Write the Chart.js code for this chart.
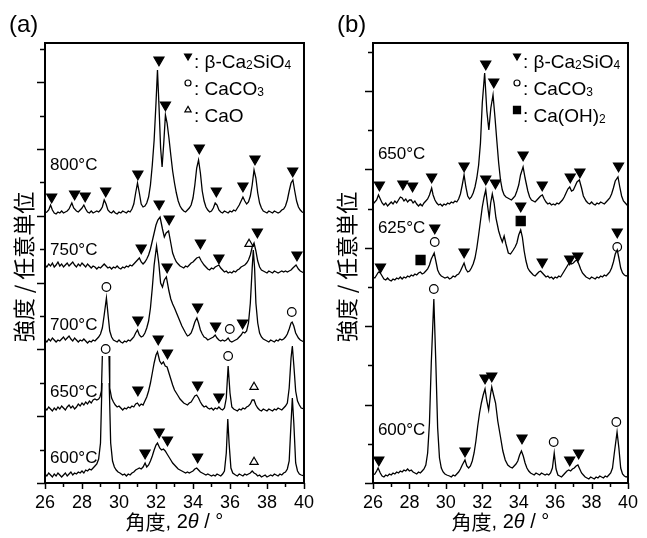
<!DOCTYPE html>
<html>
<head>
<meta charset="utf-8">
<script src="https://cdn.jsdelivr.net/npm/chart.js@4.4.1/dist/chart.umd.min.js"></script>
<style>
  body { margin: 0; background: #fff; }
  #wrap { position: relative; width: 647px; height: 538px; }
  canvas { position: absolute; top: 0; }
</style>
</head>
<body>
<div id="wrap">
  <canvas id="ca" width="323" height="538" style="left:0;width:323px;height:538px"></canvas>
  <canvas id="cb" width="324" height="538" style="left:323px;width:324px;height:538px"></canvas>
</div>
<script>
// x = 2theta (deg), y = intensity (arb. units, curves already offset)
const xTicks = [26, 28, 30, 32, 34, 36, 38, 40];
const xMinor = [26, 27, 28, 29, 30, 31, 32, 33, 34, 35, 36, 37, 38, 39, 40];

// panel (a)
const a800 = [[26.0,270],[26.1,271],[26.2,273],[26.3,278],[26.4,273],[26.5,270],[26.6,269],[26.7,271],[26.8,270],[26.9,272],[27.0,270],[27.1,271],[27.2,272],[27.3,274],[27.45,280],[27.55,275],[27.7,272],[27.8,271],[27.9,273],[28.0,275],[28.1,278],[28.2,274],[28.3,271],[28.4,270],[28.5,272],[28.6,270],[28.7,271],[28.8,272],[28.9,271],[29.0,273],[29.1,276],[29.2,283],[29.3,279],[29.4,273],[29.5,271],[29.6,270],[29.7,272],[29.8,270],[29.9,269],[30.0,271],[30.1,270],[30.2,272],[30.3,271],[30.4,270],[30.5,272],[30.6,271],[30.7,274],[30.8,279],[30.9,290],[31.0,300],[31.1,290],[31.2,279],[31.3,276],[31.4,277],[31.5,280],[31.6,286],[31.7,298],[31.8,318],[31.9,343],[32.0,380],[32.08,413],[32.16,378],[32.25,335],[32.33,316],[32.42,340],[32.51,368],[32.6,360],[32.7,345],[32.8,328],[32.9,312],[33.0,300],[33.1,290],[33.2,282],[33.3,277],[33.4,274],[33.5,272],[33.6,271],[33.7,273],[33.8,275],[33.9,278],[34.0,285],[34.1,298],[34.2,315],[34.3,323],[34.4,310],[34.5,292],[34.6,282],[34.7,276],[34.8,273],[34.9,271],[35.0,272],[35.1,275],[35.2,280],[35.3,278],[35.4,273],[35.5,271],[35.6,270],[35.7,272],[35.8,271],[35.9,270],[36.0,272],[36.1,271],[36.2,273],[36.3,272],[36.4,275],[36.5,278],[36.6,282],[36.7,286],[36.8,282],[36.9,279],[37.0,281],[37.1,287],[37.2,298],[37.3,313],[37.4,305],[37.5,290],[37.6,280],[37.7,275],[37.8,272],[37.9,271],[38.0,270],[38.1,272],[38.2,271],[38.3,270],[38.4,272],[38.5,271],[38.6,270],[38.7,271],[38.8,273],[38.9,274],[39.0,277],[39.1,283],[39.2,292],[39.3,300],[39.4,303],[39.5,292],[39.6,282],[39.7,276],[39.8,273],[39.9,271],[40.0,270]];
const a750 = [[26.0,218],[26.1,216],[26.2,219],[26.3,217],[26.4,220],[26.5,216],[26.6,218],[26.7,221],[26.8,217],[26.9,219],[27.0,216],[27.1,218],[27.2,220],[27.3,217],[27.4,219],[27.5,221],[27.6,218],[27.7,216],[27.8,219],[27.9,217],[28.0,220],[28.1,218],[28.2,216],[28.3,219],[28.4,217],[28.5,215],[28.6,217],[28.7,216],[28.8,214],[28.9,216],[29.0,215],[29.1,217],[29.2,219],[29.3,217],[29.4,215],[29.5,216],[29.6,214],[29.7,216],[29.8,215],[29.9,217],[30.0,215],[30.1,214],[30.2,216],[30.3,215],[30.4,217],[30.5,216],[30.6,218],[30.7,217],[30.8,219],[30.9,221],[31.0,223],[31.1,225],[31.2,221],[31.3,219],[31.4,221],[31.5,224],[31.6,228],[31.7,234],[31.8,242],[31.9,250],[32.0,258],[32.1,263],[32.22,266],[32.35,254],[32.45,246],[32.55,250],[32.68,252],[32.8,240],[32.9,230],[33.0,225],[33.1,221],[33.2,219],[33.3,217],[33.4,216],[33.5,215],[33.6,217],[33.7,216],[33.8,218],[33.9,220],[34.0,221],[34.1,223],[34.2,225],[34.34,226],[34.45,222],[34.6,218],[34.7,216],[34.8,214],[34.9,213],[35.0,215],[35.1,214],[35.2,216],[35.3,217],[35.4,218],[35.5,215],[35.6,213],[35.7,211],[35.8,212],[35.9,210],[36.0,211],[36.1,210],[36.2,212],[36.3,211],[36.4,213],[36.5,214],[36.6,216],[36.7,217],[36.8,218],[36.9,220],[37.0,223],[37.1,228],[37.2,236],[37.3,240],[37.4,232],[37.5,222],[37.6,216],[37.7,213],[37.8,212],[37.9,211],[38.0,210],[38.1,212],[38.2,211],[38.3,210],[38.4,212],[38.5,211],[38.6,210],[38.7,211],[38.8,212],[38.9,211],[39.0,212],[39.1,211],[39.2,212],[39.3,213],[39.4,215],[39.57,218],[39.7,214],[39.8,212],[39.9,211],[40.0,210]];
const a700 = [[26.0,143],[26.1,141],[26.2,144],[26.3,142],[26.4,145],[26.5,143],[26.6,141],[26.7,143],[26.8,142],[26.9,144],[27.0,146],[27.1,143],[27.2,145],[27.3,147],[27.4,144],[27.5,142],[27.6,145],[27.7,143],[27.8,141],[27.9,143],[28.0,142],[28.1,144],[28.2,142],[28.3,140],[28.4,142],[28.5,141],[28.6,143],[28.7,142],[28.8,144],[28.9,146],[29.0,149],[29.1,155],[29.2,168],[29.32,185],[29.42,166],[29.5,152],[29.6,146],[29.7,143],[29.8,142],[29.9,141],[30.0,143],[30.1,141],[30.2,140],[30.3,142],[30.4,141],[30.5,143],[30.6,142],[30.7,144],[30.8,146],[30.9,150],[31.0,153],[31.1,148],[31.2,146],[31.3,147],[31.4,150],[31.5,155],[31.6,162],[31.7,175],[31.8,195],[31.9,218],[32.03,237],[32.15,220],[32.25,200],[32.35,196],[32.45,203],[32.56,206],[32.7,192],[32.8,184],[32.9,179],[33.0,175],[33.2,166],[33.4,157],[33.6,150],[33.7,147],[33.8,148],[33.9,150],[34.0,155],[34.1,161],[34.21,165],[34.3,160],[34.4,153],[34.5,149],[34.6,146],[34.7,145],[34.8,143],[34.9,144],[35.0,145],[35.1,146],[35.2,148],[35.3,145],[35.4,143],[35.5,142],[35.6,143],[35.7,142],[35.8,143],[35.9,145],[36.0,142],[36.1,141],[36.2,142],[36.3,143],[36.4,144],[36.5,146],[36.6,148],[36.7,151],[36.8,150],[36.9,152],[37.0,160],[37.1,180],[37.2,215],[37.26,233],[37.33,215],[37.4,180],[37.5,160],[37.6,150],[37.7,146],[37.8,144],[37.9,143],[38.0,142],[38.1,141],[38.2,143],[38.3,142],[38.4,141],[38.5,143],[38.6,142],[38.7,144],[38.8,143],[38.9,144],[39.0,146],[39.1,149],[39.2,154],[39.3,160],[39.36,161],[39.45,157],[39.55,150],[39.7,145],[39.8,143],[39.9,142],[40.0,141]];
const a650 = [[26.0,75],[26.1,73],[26.2,76],[26.3,74],[26.4,72],[26.5,75],[26.6,73],[26.7,76],[26.8,74],[26.9,77],[27.0,75],[27.1,73],[27.2,76],[27.3,78],[27.4,75],[27.5,77],[27.6,74],[27.7,76],[27.8,79],[27.9,77],[28.0,80],[28.1,78],[28.2,81],[28.3,79],[28.4,82],[28.5,80],[28.6,83],[28.7,84],[28.8,83],[28.9,84],[28.97,86],[29.05,92],[29.1,127],[29.28,null],[29.46,127],[29.5,95],[29.6,85],[29.7,81],[29.8,78],[29.9,76],[30.0,77],[30.1,75],[30.2,73],[30.3,75],[30.4,74],[30.5,76],[30.6,75],[30.7,77],[30.8,76],[30.9,79],[31.0,80],[31.1,77],[31.2,79],[31.3,78],[31.4,82],[31.5,86],[31.6,92],[31.7,100],[31.8,110],[31.9,120],[32.0,128],[32.08,131],[32.2,122],[32.3,119],[32.4,121],[32.5,117],[32.6,116],[32.7,110],[32.8,104],[32.9,98],[33.0,93],[33.1,90],[33.2,87],[33.3,84],[33.4,82],[33.5,80],[33.6,79],[33.7,78],[33.8,80],[33.9,81],[34.0,84],[34.1,87],[34.2,88],[34.3,85],[34.4,81],[34.5,78],[34.6,76],[34.7,77],[34.8,75],[34.9,74],[35.0,75],[35.1,73],[35.2,75],[35.3,74],[35.4,76],[35.5,74],[35.6,73],[35.7,75],[35.8,85],[35.9,117],[36.0,90],[36.1,76],[36.2,74],[36.3,73],[36.4,72],[36.5,74],[36.6,73],[36.7,75],[36.8,74],[36.9,76],[37.0,77],[37.1,79],[37.2,83],[37.3,83],[37.4,78],[37.5,75],[37.6,73],[37.7,72],[37.8,74],[37.9,73],[38.0,72],[38.1,74],[38.2,73],[38.3,72],[38.4,74],[38.5,73],[38.6,75],[38.7,74],[38.8,73],[38.9,75],[39.0,77],[39.1,80],[39.2,95],[39.3,125],[39.37,137],[39.45,118],[39.55,92],[39.65,82],[39.75,78],[39.85,75],[40.0,74]];
const a600 = [[26.0,9],[26.1,7],[26.2,10],[26.3,8],[26.4,6],[26.5,9],[26.6,7],[26.7,10],[26.8,8],[26.9,6],[27.0,8],[27.1,10],[27.2,7],[27.3,9],[27.4,11],[27.5,8],[27.6,10],[27.7,9],[27.8,11],[27.9,10],[28.0,12],[28.1,10],[28.2,13],[28.3,12],[28.4,14],[28.5,13],[28.6,15],[28.7,17],[28.8,19],[28.9,24],[29.0,40],[29.08,100],[29.28,null],[29.47,100],[29.55,40],[29.65,22],[29.75,16],[29.85,13],[29.95,11],[30.05,10],[30.2,8],[30.3,9],[30.4,7],[30.5,9],[30.6,8],[30.7,10],[30.8,11],[30.9,13],[31.0,14],[31.1,15],[31.2,14],[31.3,16],[31.41,20],[31.5,16],[31.6,18],[31.7,22],[31.8,27],[31.9,33],[32.0,38],[32.08,40],[32.2,35],[32.3,33],[32.4,34],[32.5,32],[32.6,29],[32.7,26],[32.8,23],[32.9,20],[33.0,18],[33.1,16],[33.2,14],[33.3,13],[33.4,12],[33.5,11],[33.6,10],[33.7,11],[33.8,10],[33.9,11],[34.0,12],[34.1,14],[34.2,15],[34.3,13],[34.4,11],[34.5,10],[34.6,9],[34.7,8],[34.8,9],[34.9,8],[35.0,7],[35.1,8],[35.2,7],[35.3,9],[35.4,8],[35.5,7],[35.6,9],[35.7,12],[35.8,30],[35.88,64],[35.95,40],[36.05,15],[36.15,10],[36.3,8],[36.4,7],[36.5,9],[36.6,8],[36.7,7],[36.8,9],[36.9,8],[37.0,9],[37.1,10],[37.2,12],[37.3,10],[37.4,9],[37.5,7],[37.6,8],[37.7,6],[37.8,7],[37.9,8],[38.0,6],[38.1,7],[38.2,8],[38.3,7],[38.4,9],[38.5,8],[38.6,7],[38.7,9],[38.8,8],[38.9,10],[39.0,11],[39.1,14],[39.2,22],[39.3,60],[39.37,85],[39.45,60],[39.55,20],[39.65,12],[39.75,9],[39.85,8],[40.0,7]];

const aBeta = [[26.36,286],[27.6,289],[28.17,287],[29.28,292],[31.02,309],[32.16,423],[32.51,378],[34.34,335],[35.26,292],[36.7,297],[37.35,324],[39.39,312],
  [31.2,235],[32.17,279],[32.71,264],[34.4,240],[35.4,225],[37.48,251],[39.62,228],
  [31.02,163],[32.6,216],[34.25,176],[35.22,157],[36.68,160],
  [31.02,93],[32.12,144],[32.62,130],[34.25,98],[35.4,86],
  [31.41,30],[32.17,51],[32.62,43],[34.25,26]];
const aCaCO3 = [[29.32,196],[35.99,154],[39.34,171],[29.28,134],[35.9,127]];
const aCaO = [[37.03,239],[37.3,96],[37.3,21]];
const aTemps = [['800°C', 26.27, 318], ['750°C', 26.27, 233], ['700°C', 26.27, 158], ['650°C', 26.27, 91], ['600°C', 26.27, 25]];

// panel (b)
const b650 = [[26.0,279],[26.1,281],[26.2,283],[26.3,288],[26.4,284],[26.5,280],[26.6,278],[26.7,280],[26.8,277],[26.9,279],[27.0,281],[27.1,279],[27.2,282],[27.3,280],[27.4,283],[27.5,286],[27.6,285],[27.7,282],[27.8,284],[27.9,281],[28.0,283],[28.1,283],[28.2,280],[28.3,282],[28.4,279],[28.5,277],[28.6,279],[28.7,277],[28.8,280],[28.9,282],[29.0,284],[29.1,288],[29.22,295],[29.3,288],[29.4,283],[29.5,280],[29.6,278],[29.7,279],[29.8,277],[29.9,279],[30.0,278],[30.1,280],[30.2,279],[30.3,281],[30.4,280],[30.5,282],[30.6,281],[30.7,284],[30.8,289],[30.9,298],[31.0,308],[31.1,296],[31.2,287],[31.3,284],[31.4,286],[31.5,290],[31.6,296],[31.7,305],[31.8,318],[31.9,340],[32.0,380],[32.13,410],[32.25,372],[32.36,353],[32.47,375],[32.59,388],[32.7,365],[32.8,342],[32.9,320],[33.0,303],[33.1,293],[33.2,288],[33.3,286],[33.4,285],[33.5,284],[33.6,283],[33.7,285],[33.8,287],[33.9,292],[34.0,298],[34.1,308],[34.24,316],[34.35,305],[34.5,292],[34.6,286],[34.7,283],[34.8,282],[34.9,281],[35.0,283],[35.1,285],[35.2,287],[35.3,288],[35.4,284],[35.5,281],[35.6,279],[35.7,280],[35.8,278],[35.9,279],[36.0,278],[36.1,280],[36.2,279],[36.3,281],[36.4,283],[36.5,286],[36.6,290],[36.7,294],[36.8,296],[36.9,292],[37.0,293],[37.1,297],[37.2,301],[37.33,303],[37.45,295],[37.55,287],[37.7,282],[37.8,280],[37.9,279],[38.0,281],[38.1,279],[38.2,278],[38.3,280],[38.4,279],[38.5,281],[38.6,280],[38.7,279],[38.8,281],[38.9,283],[39.0,285],[39.1,289],[39.2,295],[39.3,302],[39.45,306],[39.55,296],[39.65,287],[39.75,282],[39.85,280],[39.95,278],[40.0,279]];
const b625 = [[26.0,206],[26.1,205],[26.2,208],[26.3,211],[26.4,210],[26.5,207],[26.6,204],[26.7,203],[26.8,205],[26.9,203],[27.0,202],[27.1,204],[27.2,203],[27.3,205],[27.4,204],[27.5,206],[27.6,204],[27.7,206],[27.8,205],[27.9,207],[28.0,206],[28.1,208],[28.2,207],[28.3,209],[28.4,208],[28.5,210],[28.6,211],[28.7,209],[28.8,210],[28.9,212],[29.0,214],[29.1,218],[29.2,224],[29.36,230],[29.45,222],[29.55,213],[29.65,209],[29.75,207],[29.85,206],[29.95,205],[30.1,206],[30.2,204],[30.3,205],[30.4,207],[30.5,206],[30.6,208],[30.7,209],[30.8,212],[30.9,216],[31.0,220],[31.1,214],[31.2,211],[31.3,212],[31.4,215],[31.5,219],[31.6,225],[31.7,235],[31.8,248],[31.9,262],[32.0,276],[32.1,286],[32.19,293],[32.3,276],[32.38,265],[32.46,280],[32.55,289],[32.65,280],[32.75,265],[32.9,252],[33.0,246],[33.1,241],[33.2,247],[33.3,239],[33.43,230],[33.55,229],[33.7,233],[33.8,236],[33.9,240],[34.0,248],[34.11,253],[34.2,246],[34.3,232],[34.4,222],[34.5,215],[34.6,212],[34.7,210],[34.8,208],[34.9,207],[35.0,209],[35.1,211],[35.2,212],[35.3,210],[35.4,208],[35.5,206],[35.6,207],[35.7,205],[35.8,206],[35.9,204],[36.0,206],[36.1,205],[36.2,207],[36.3,206],[36.4,209],[36.5,212],[36.6,215],[36.7,218],[36.8,221],[36.9,219],[37.0,220],[37.1,222],[37.2,223],[37.3,219],[37.4,214],[37.5,210],[37.6,208],[37.7,206],[37.8,205],[37.9,204],[38.0,206],[38.1,205],[38.2,204],[38.3,206],[38.4,205],[38.5,207],[38.6,206],[38.7,208],[38.8,207],[38.9,209],[39.0,211],[39.1,215],[39.2,221],[39.3,229],[39.41,233],[39.5,225],[39.6,215],[39.7,210],[39.8,208],[39.9,207],[40.0,208]];
const b600 = [[26.0,8],[26.1,9],[26.2,12],[26.28,15],[26.4,10],[26.5,7],[26.6,6],[26.7,8],[26.8,7],[26.9,9],[27.0,8],[27.1,10],[27.2,9],[27.3,11],[27.4,10],[27.5,12],[27.6,11],[27.7,13],[27.8,12],[27.9,14],[28.0,12],[28.1,13],[28.2,11],[28.3,10],[28.4,9],[28.5,11],[28.6,10],[28.7,12],[28.8,14],[28.9,18],[29.0,30],[29.1,60],[29.2,120],[29.34,184],[29.45,120],[29.55,55],[29.65,25],[29.75,15],[29.85,11],[29.95,9],[30.05,8],[30.2,7],[30.3,6],[30.4,8],[30.5,7],[30.6,9],[30.7,11],[30.8,14],[30.9,18],[31.05,23],[31.15,17],[31.25,15],[31.35,17],[31.45,22],[31.55,30],[31.65,42],[31.75,57],[31.85,70],[31.95,80],[32.05,88],[32.15,94],[32.25,82],[32.35,73],[32.45,88],[32.52,96],[32.62,88],[32.73,80],[32.85,62],[33.0,46],[33.13,32],[33.26,23],[33.4,18],[33.53,16],[33.65,15],[33.75,17],[33.85,19],[33.95,22],[34.05,28],[34.15,32],[34.25,27],[34.35,20],[34.45,15],[34.55,12],[34.65,10],[34.75,9],[34.85,8],[34.95,10],[35.05,9],[35.15,8],[35.25,10],[35.35,9],[35.45,8],[35.55,9],[35.65,8],[35.75,10],[35.85,15],[35.95,30],[36.05,14],[36.15,8],[36.25,7],[36.35,6],[36.45,8],[36.55,10],[36.65,12],[36.75,13],[36.85,12],[36.95,14],[37.05,15],[37.15,17],[37.25,18],[37.35,14],[37.45,10],[37.55,8],[37.65,6],[37.75,5],[37.85,4],[37.95,6],[38.05,5],[38.15,4],[38.25,6],[38.35,5],[38.45,7],[38.55,6],[38.65,5],[38.75,7],[38.85,6],[38.95,8],[39.05,10],[39.15,15],[39.25,30],[39.4,51],[39.5,35],[39.6,15],[39.7,9],[39.8,7],[39.9,6],[40.0,7]];

const bBeta = [[26.35,298],[27.64,299],[28.17,297],[29.22,306],[31.0,317],[32.19,419],[32.63,401],[34.24,328],[35.29,298],[36.83,306],[37.36,311],[39.48,317],
  [26.41,216],[29.39,255],[31.0,231],[32.19,304],[32.72,300],[34.11,277],[35.29,221],[36.8,224],[37.24,227],[39.41,251],
  [26.32,23],[31.05,32],[32.15,105],[32.52,107],[34.18,45],[36.8,23],[37.29,30]];
const bCaCO3 = [[29.39,241],[39.41,236],[29.34,194],[35.92,41],[39.36,61]];
const bCaOH2 = [[28.61,223],[34.11,262]];
const bTemps = [['650°C', 26.27, 329], ['625°C', 26.27, 255], ['600°C', 26.27, 53]];

const SANS = '"Liberation Sans", Arial, sans-serif';
const CJK = '"Noto Sans CJK JP", sans-serif';

function drawRich(ctx, parts, x, y, size) {
  // parts: [text, isSub]
  parts.forEach(p => {
    ctx.font = (p[1] ? Math.round(size * 0.65) : size) + 'px ' + SANS;
    ctx.fillText(p[0], x, y + (p[1] ? 1 : 0));
    x += ctx.measureText(p[0]).width;
  });
}

const decor = {
  id: 'decor',
  afterDraw(chart, args, o) {
    const ctx = chart.ctx, a = chart.chartArea;
    const xs = chart.scales.x, ys = chart.scales.y;
    ctx.save();
    ctx.strokeStyle = '#000';
    ctx.fillStyle = '#000';
    ctx.lineWidth = 2;
    ctx.strokeRect(a.left, a.top, a.right - a.left, a.bottom - a.top);

    ctx.lineWidth = 1.5;
    for (let k = 0; k * o.yStep <= 440; k++) {
      const py = Math.round(ys.getPixelForValue(k * o.yStep)) + 0.5;
      const len = k % 2 ? 5 : 8;
      ctx.beginPath(); ctx.moveTo(a.left - len, py); ctx.lineTo(a.left, py); ctx.stroke();
    }
    xMinor.forEach(v => {
      const px = Math.round(xs.getPixelForValue(v)) + 0.5;
      const len = v % 2 ? 4 : 6;
      ctx.beginPath(); ctx.moveTo(px, a.bottom); ctx.lineTo(px, a.bottom + len); ctx.stroke();
    });

    // temperature labels
    ctx.textBaseline = 'middle';
    ctx.textAlign = 'left';
    ctx.font = '17px ' + SANS;
    o.temps.forEach(t => ctx.fillText(t[0], xs.getPixelForValue(t[1]), ys.getPixelForValue(t[2])));

    // legend
    const lx = a.left + o.legX, ly = a.top + 18;
    ctx.textBaseline = 'alphabetic';
    o.legend.forEach((row, i) => {
      const y = ly + i * 27;
      const st = row.mark;
      ctx.lineWidth = 1.2;
      ctx.strokeStyle = '#000';
      ctx.fillStyle = st.fill ? '#000' : 'rgba(0,0,0,0)';
      Chart.helpers.drawPoint(ctx, {pointStyle: st.style, radius: st.r, rotation: st.rot || 0, borderWidth: 1.2}, lx, y - (st.dy || 0));
      ctx.fillStyle = '#000';
      drawRich(ctx, row.parts, lx + 6, y + 7, 19);
    });

    // panel tag
    ctx.font = '24px ' + SANS;
    ctx.textBaseline = 'middle';
    ctx.fillText(o.tag, o.tagX, 25);

    // y title
    ctx.save();
    ctx.translate(o.yTitleX, (a.top + a.bottom) / 2 + 4);
    ctx.rotate(-Math.PI / 2);
    ctx.textAlign = 'center';
    ctx.textBaseline = 'middle';
    ctx.font = '22px ' + CJK;
    ctx.fillText('強度 / 任意単位', 0, 0);
    ctx.restore();

    // x title: 角度, 2θ / °
    const segs = [['角度', '20px ' + CJK], [', 2', '20px ' + SANS], ['θ', 'italic 20px ' + SANS], [' / °', '20px ' + SANS]];
    let w = 0;
    segs.forEach(s => { ctx.font = s[1]; w += ctx.measureText(s[0]).width; });
    let x0 = (a.left + a.right) / 2 - w / 2;
    ctx.textAlign = 'left';
    segs.forEach(s => { ctx.font = s[1]; ctx.fillText(s[0], x0, 522); x0 += ctx.measureText(s[0]).width; });
    ctx.restore();
  }
};

function markSet(data, style, r, rot, fill) {
  return {
    data: data, showLine: false, pointStyle: style, pointRadius: r, pointHoverRadius: r,
    pointRotation: rot, pointBorderWidth: 1.2, pointBorderColor: '#000',
    pointBackgroundColor: fill ? '#000' : 'rgba(0,0,0,0)'
  };
}

function curve(data) {
  return { data: data, borderColor: '#000', borderWidth: 1.3, pointRadius: 0, tension: 0, spanGaps: false };
}

function makePanel(id, curves, marks, padL, padR, decorOpts) {
  const ctx = document.getElementById(id).getContext('2d');
  return new Chart(ctx, {
    type: 'line',
    data: { datasets: curves.map(curve).concat(marks) },
    options: {
      responsive: false,
      animation: false,
      events: [],
      layout: { padding: { left: padL, right: padR, top: 43, bottom: 0 } },
      plugins: { legend: { display: false }, tooltip: { enabled: false }, decor: decorOpts },
      scales: {
        x: {
          type: 'linear', min: 26, max: 40,
          afterBuildTicks: s => { s.ticks = xTicks.map(v => ({ value: v })); },
          ticks: { color: '#000', font: { size: 18, family: SANS }, padding: 9, maxRotation: 0, autoSkip: false },
          grid: { display: false, drawTicks: false },
          border: { display: false },
          afterFit: s => { s.height = 55; }
        },
        y: { type: 'linear', min: 0, max: 440, display: false }
      }
    },
    plugins: [decor]
  });
}

const legBeta = { style: 'triangle', r: 4, rot: 180, fill: true, dy: 5 };
const legCirc = { style: 'circle', r: 3, fill: false, dy: 5 };

makePanel('ca', [a800, a750, a700, a650, a600], [
  markSet(aBeta, 'triangle', 5.8, 180, true),
  markSet(aCaCO3, 'circle', 4.3, 0, false),
  markSet(aCaO, 'triangle', 4.8, 0, false)
], 45, 15, {
  yStep: 33.4, temps: aTemps, legX: 143, tag: '(a)', tagX: 9, yTitleX: 24,
  legend: [
    { mark: legBeta, parts: [[': β-Ca', 0], ['2', 1], ['SiO', 0], ['4', 1]] },
    { mark: legCirc, parts: [[': CaCO', 0], ['3', 1]] },
    { mark: { style: 'triangle', r: 3.6, fill: false, dy: 5 }, parts: [[': CaO', 0]] }
  ]
});

makePanel('cb', [b650, b625, b600], [
  markSet(bBeta, 'triangle', 5.8, 180, true),
  markSet(bCaCO3, 'circle', 4.3, 0, false),
  markSet(bCaOH2, 'rect', 6.4, 0, true)
], 50, 10, {
  yStep: 39.2, temps: bTemps, legX: 144, tag: '(b)', tagX: 14, yTitleX: 24,
  legend: [
    { mark: legBeta, parts: [[': β-Ca', 0], ['2', 1], ['SiO', 0], ['4', 1]] },
    { mark: legCirc, parts: [[': CaCO', 0], ['3', 1]] },
    { mark: { style: 'rect', r: 5, fill: true, dy: 5 }, parts: [[': Ca(OH)', 0], ['2', 1]] }
  ]
});
</script>
</body>
</html>
